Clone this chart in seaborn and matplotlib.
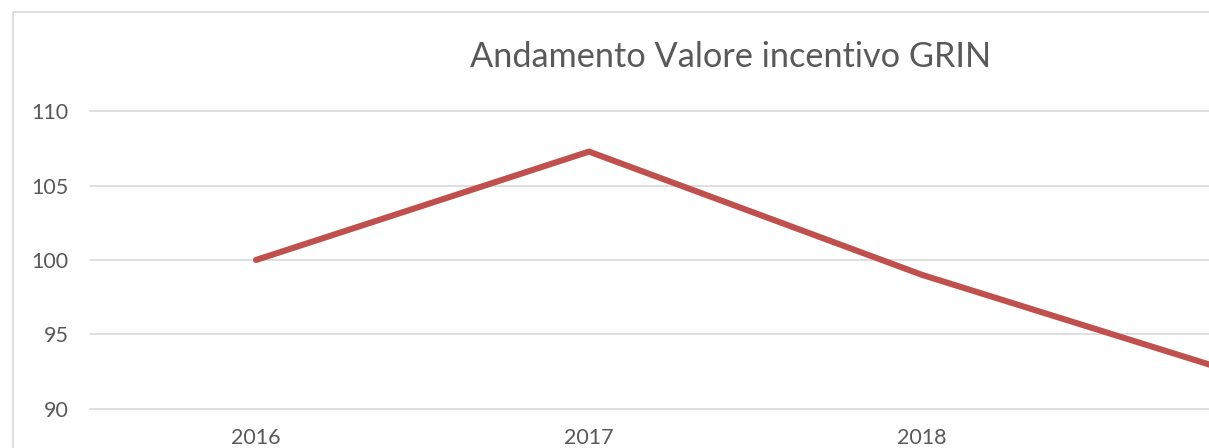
import matplotlib
matplotlib.use("Agg")
import matplotlib.pyplot as plt
import seaborn as sns
import pandas as pd
from matplotlib.patches import Rectangle

years = ["2016", "2017", "2018", "2019"]
values = [100.0, 107.3, 99.0, 92.0]
y_ticks = [90, 95, 100, 105, 110]
title = "Andamento Valore incentivo GRIN"

sns.set_theme(style="white")
plt.rcParams["font.family"] = ["Lato", "DejaVu Sans"]

W, H = 1209, 448
fig = plt.figure(figsize=(W / 100, H / 100), dpi=100)
fig.patch.set_facecolor("white")

left, right, top, bottom = 89.5, 1421.5, 111.5, 408.5
ax = fig.add_axes([left / W, (H - bottom) / H, (right - left) / W, (bottom - top) / H])
ax.set_facecolor("none")

df = pd.DataFrame({"year": years, "value": values})
sns.lineplot(data=df, x="year", y="value", ax=ax, color="#C0504D", linewidth=4.4,
             solid_capstyle="round", solid_joinstyle="round", zorder=3)

ax.set_xlim(-0.5, len(years) - 0.5)
ax.set_ylim(90, 110)
ax.set_yticks(y_ticks)
ax.set_yticklabels([str(t) for t in y_ticks])
ax.grid(axis="y", color="#D9D9D9", linewidth=1.2)
for gl in ax.get_ygridlines():
    gl.set_clip_on(False)
ax.grid(axis="x", visible=False)
for s in ax.spines.values():
    s.set_visible(False)
ax.tick_params(axis="both", length=0, colors="#595959", labelsize=15.5)
ax.tick_params(axis="y", pad=15)
ax.tick_params(axis="x", pad=14)
ax.set_xlabel("")
ax.set_ylabel("")

# labels beyond the visible (cropped) area of the figure are not drawn
fig.canvas.draw()
for lbl in ax.get_xticklabels():
    bb = lbl.get_window_extent()
    if bb.x1 > W:
        lbl.set_visible(False)

fig.patches.append(Rectangle((12.5 / W, -0.1), 1.2, (H - 12.5) / H + 0.1,
                             transform=fig.transFigure, fill=False,
                             edgecolor="#D9D9D9", linewidth=1.2, zorder=0))

fig.text(731 / W, 1 - 57 / H, title, ha="center", va="center",
         fontsize=24.7, color="#595959")

fig.savefig("out.png", dpi=100)
